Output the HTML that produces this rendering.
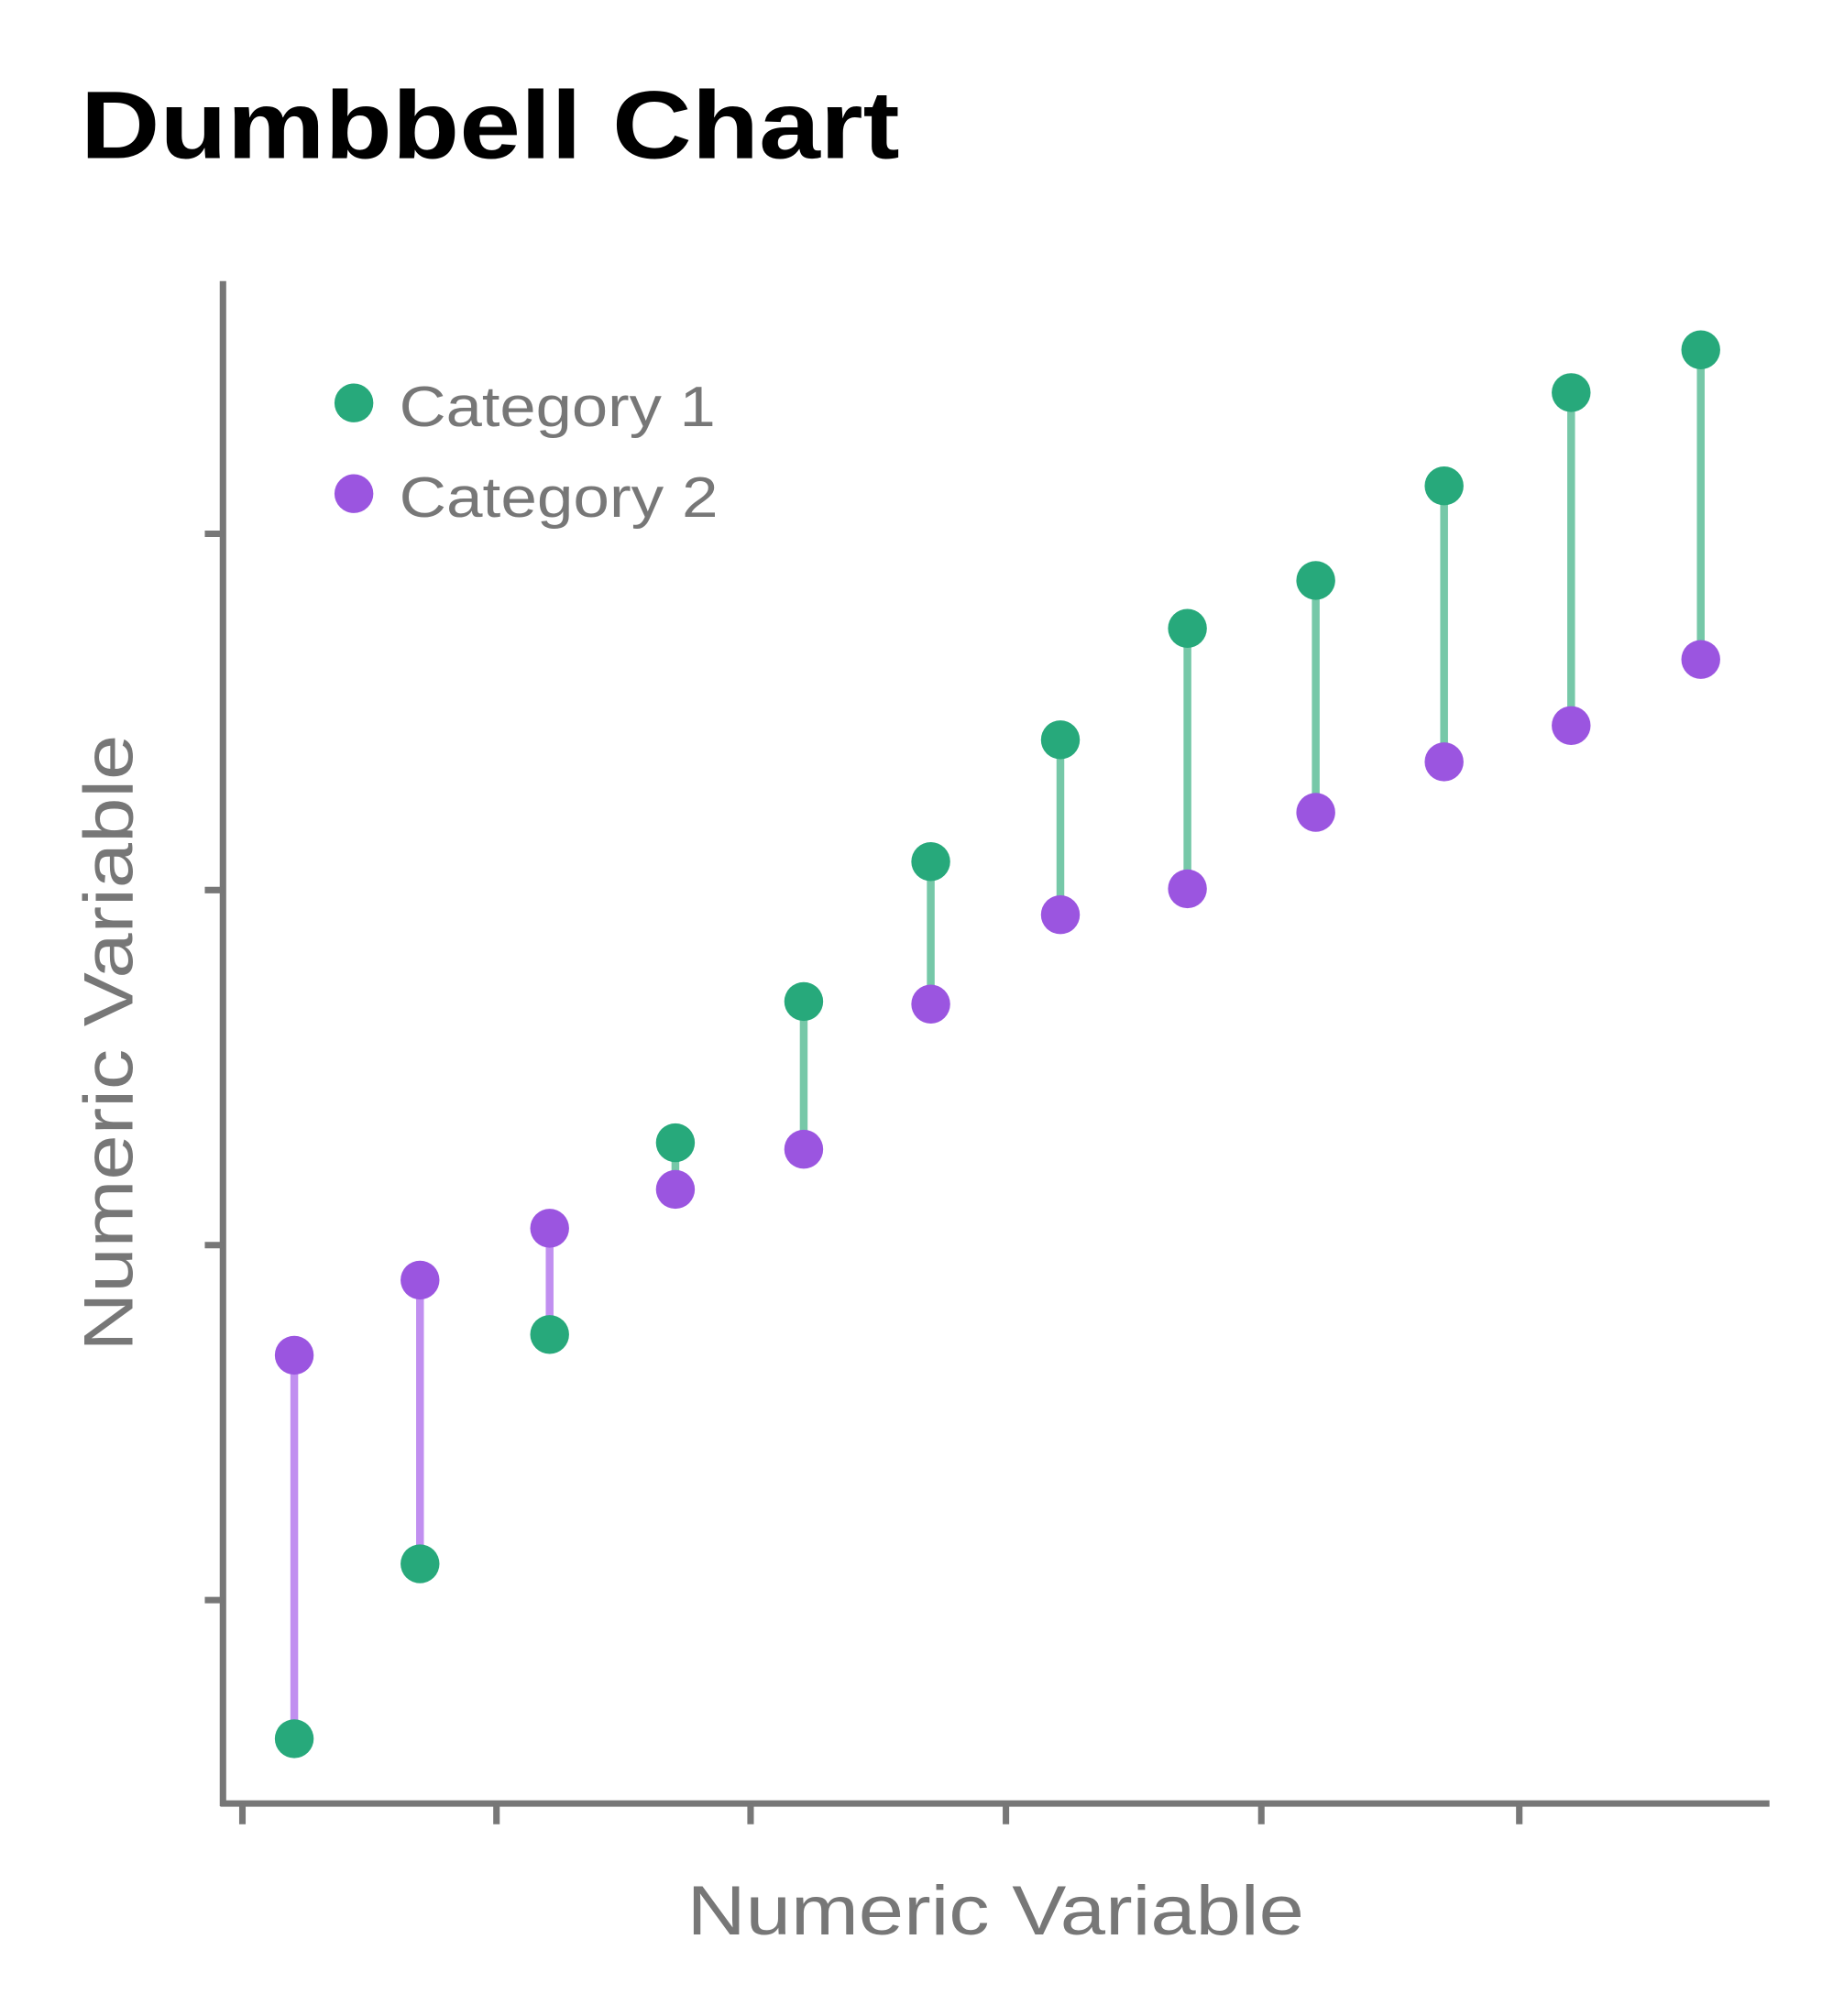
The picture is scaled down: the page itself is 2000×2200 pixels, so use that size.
<!DOCTYPE html>
<html><head><meta charset="utf-8"><style>html,body{margin:0;padding:0;background:#fff}svg{display:block}</style></head>
<body>
<svg width="2000" height="2200" viewBox="0 0 1414 1556" preserveAspectRatio="none" xmlns="http://www.w3.org/2000/svg" font-family="Liberation Sans, Arial, sans-serif">
<rect width="1414" height="1556" fill="#fff"/>
<text x="62" y="122" font-size="74" font-weight="bold" fill="#000" textLength="632" lengthAdjust="spacingAndGlyphs">Dumbbell Chart</text>
<g stroke="#777" stroke-width="5" fill="none">
<line x1="172" y1="217" x2="172" y2="1394"/>
<line x1="170" y1="1392" x2="1365" y2="1392"/>
<line x1="158" y1="412" x2="172" y2="412"/>
<line x1="158" y1="687" x2="172" y2="687"/>
<line x1="158" y1="961" x2="172" y2="961"/>
<line x1="158" y1="1235" x2="172" y2="1235"/>
<line x1="187" y1="1392" x2="187" y2="1408"/>
<line x1="383" y1="1392" x2="383" y2="1408"/>
<line x1="579" y1="1392" x2="579" y2="1408"/>
<line x1="776" y1="1392" x2="776" y2="1408"/>
<line x1="973" y1="1392" x2="973" y2="1408"/>
<line x1="1172" y1="1392" x2="1172" y2="1408"/>
</g>
<g stroke-width="6">
<line x1="227" y1="1342" x2="227" y2="1046" stroke="#c18ff0"/>
<line x1="324" y1="1207" x2="324" y2="988" stroke="#c18ff0"/>
<line x1="424" y1="1030" x2="424" y2="948" stroke="#c18ff0"/>
<line x1="521" y1="882" x2="521" y2="918" stroke="#76c8a8"/>
<line x1="620" y1="773" x2="620" y2="887" stroke="#76c8a8"/>
<line x1="718" y1="665" x2="718" y2="775" stroke="#76c8a8"/>
<line x1="818" y1="571" x2="818" y2="706" stroke="#76c8a8"/>
<line x1="916" y1="485" x2="916" y2="686" stroke="#76c8a8"/>
<line x1="1015" y1="448" x2="1015" y2="627" stroke="#76c8a8"/>
<line x1="1114" y1="375" x2="1114" y2="588" stroke="#76c8a8"/>
<line x1="1212" y1="303" x2="1212" y2="560" stroke="#76c8a8"/>
<line x1="1312" y1="270" x2="1312" y2="509" stroke="#76c8a8"/>
</g>
<g fill="#27a97b">
<circle cx="227" cy="1342" r="15"/><circle cx="324" cy="1207" r="15"/><circle cx="424" cy="1030" r="15"/><circle cx="521" cy="882" r="15"/><circle cx="620" cy="773" r="15"/><circle cx="718" cy="665" r="15"/><circle cx="818" cy="571" r="15"/><circle cx="916" cy="485" r="15"/><circle cx="1015" cy="448" r="15"/><circle cx="1114" cy="375" r="15"/><circle cx="1212" cy="303" r="15"/><circle cx="1312" cy="270" r="15"/>
<circle cx="273" cy="311" r="15"/>
</g>
<g fill="#9b55e0">
<circle cx="227" cy="1046" r="15"/><circle cx="324" cy="988" r="15"/><circle cx="424" cy="948" r="15"/><circle cx="521" cy="918" r="15"/><circle cx="620" cy="887" r="15"/><circle cx="718" cy="775" r="15"/><circle cx="818" cy="706" r="15"/><circle cx="916" cy="686" r="15"/><circle cx="1015" cy="627" r="15"/><circle cx="1114" cy="588" r="15"/><circle cx="1212" cy="560" r="15"/><circle cx="1312" cy="509" r="15"/>
<circle cx="273" cy="381" r="15"/>
</g>
<g fill="#777" font-size="44">
<text x="308" y="329" textLength="244" lengthAdjust="spacingAndGlyphs">Category 1</text>
<text x="308" y="399" textLength="246" lengthAdjust="spacingAndGlyphs">Category 2</text>
<text x="768" y="1493" font-size="54" text-anchor="middle" textLength="476" lengthAdjust="spacingAndGlyphs">Numeric Variable</text>
<text transform="translate(102,805) rotate(-90)" font-size="54" text-anchor="middle" textLength="476" lengthAdjust="spacingAndGlyphs">Numeric Variable</text>
</g>
</svg>
</body></html>
